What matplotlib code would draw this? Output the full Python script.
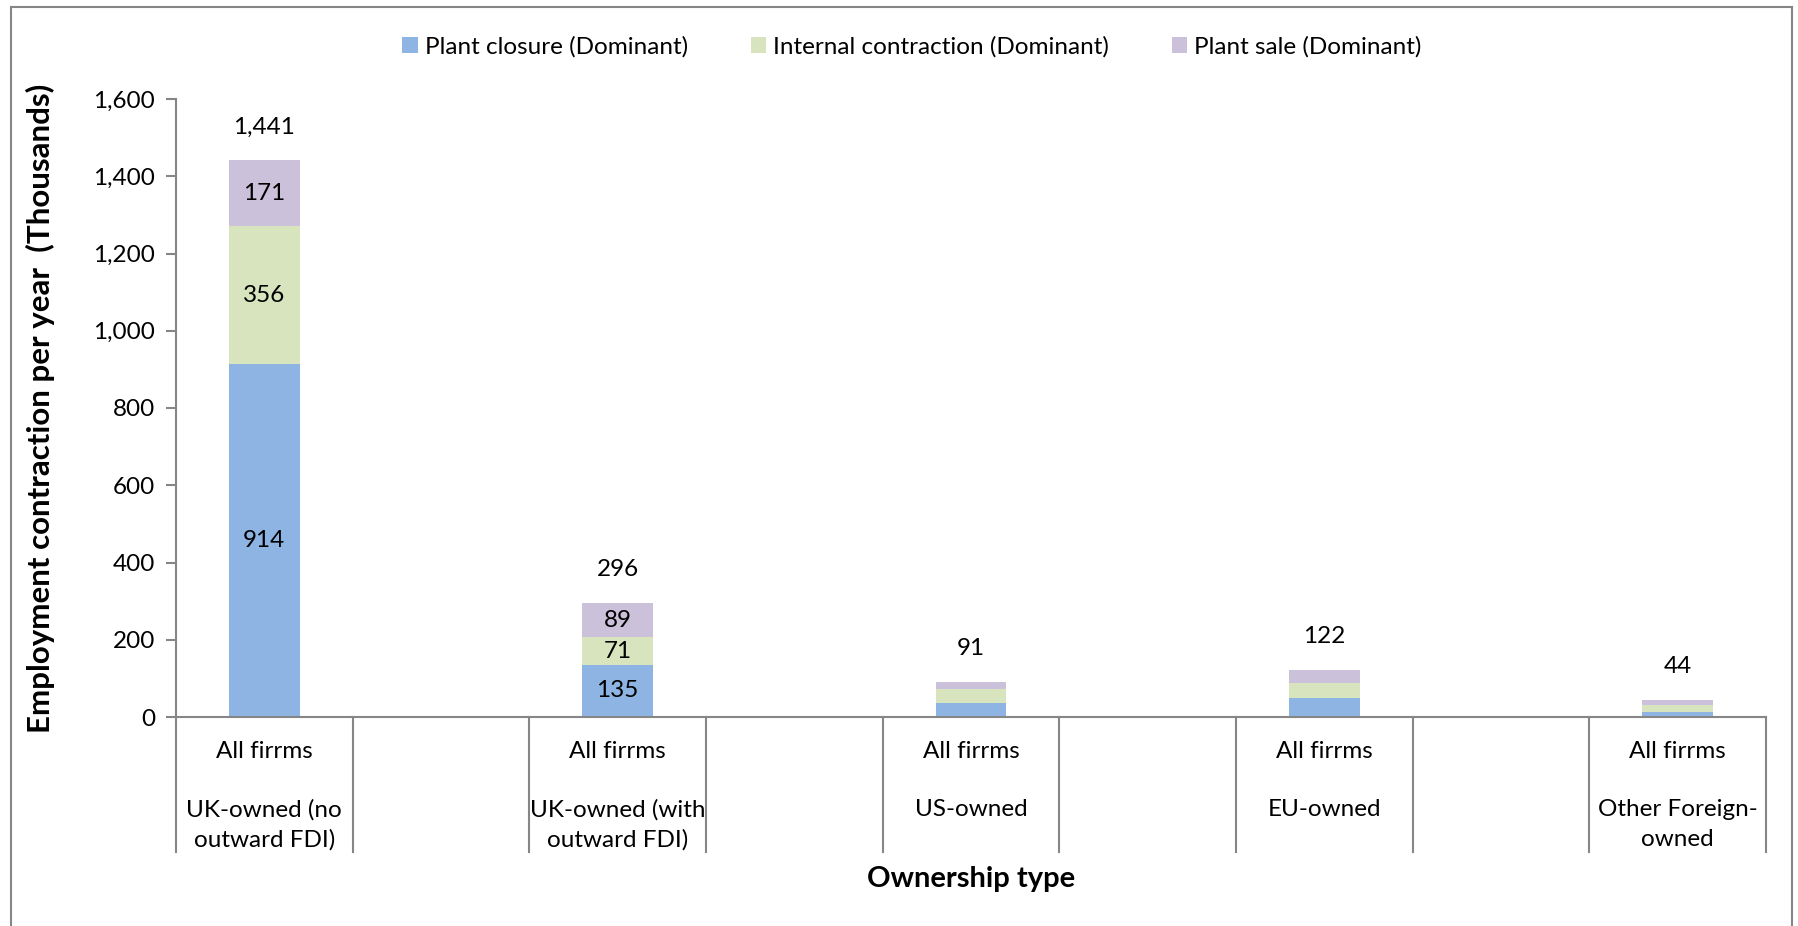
import numpy as np
import matplotlib
matplotlib.use('agg')
import matplotlib.pyplot as plt
import matplotlib.transforms as mtransforms
from matplotlib.patches import Patch
from matplotlib.lines import Line2D
import matplotlib.ticker as ticker

###DATA###
owners = ['UK-owned (no\noutward FDI)', 'UK-owned (with\noutward FDI)', 'US-owned', 'EU-owned', 'Other Foreign-\nowned']
sub_label = 'All firrms'
closure = [914, 135, 37, 49, 14]
internal = [356, 71, 36, 39, 17]
sale = [171, 89, 18, 34, 13]
totals = [1441, 296, 91, 122, 44]
show_inside = [True, True, False, False, False]
legends = ['Plant closure (Dominant)', 'Internal contraction (Dominant)', 'Plant sale (Dominant)']
colors = ['#8EB4E3', '#D7E4BD', '#CCC1DA']
gray = '#868686'

plt.rcParams['font.family'] = ['Lato', 'DejaVu Sans']
FS = 17.5

W, H = 1798, 926
fig = plt.figure(figsize=(W/100, H/100), dpi=100)
ax = fig.add_axes([176/W, 1-717/H, 1590/W, 618/H])

def yfrac(ypix):
    # pixel row below the x axis -> axes fraction
    return (717 - ypix) / 618.0

# bars sit in every other slot (empty slot in between)
xpos = np.arange(len(owners)) * 2
bottom = np.zeros(len(owners))
for vals, c, lab in zip([closure, internal, sale], colors, legends):
    vals = np.array(vals, dtype=float)
    bars = ax.bar(xpos, vals, width=0.4, bottom=bottom, color=c, label=lab)
    for i, b in enumerate(bars):
        if show_inside[i]:
            ax.text(b.get_x() + b.get_width()/2, bottom[i] + vals[i]/2, str(int(vals[i])),
                    ha='center', va='center', fontsize=FS, color='black')
    bottom += vals

for x, t, top in zip(xpos, totals, bottom):
    ax.annotate('{:,}'.format(t), xy=(x, top), xytext=(0, 24), textcoords='offset points',
                ha='center', va='center', fontsize=FS)

###AXES###
ax.set_xlim(-0.5, 2*len(owners) - 1.5)
ax.set_ylim(0, 1600)
ax.yaxis.set_major_locator(ticker.MultipleLocator(200))
ax.yaxis.set_major_formatter(ticker.FuncFormatter(lambda v, p: '{:,.0f}'.format(v)))
ax.set_xticks([])
for s in ['top', 'right']:
    ax.spines[s].set_visible(False)
for s in ['left', 'bottom']:
    ax.spines[s].set_color(gray)
    ax.spines[s].set_linewidth(1.5)
ax.tick_params(axis='y', length=7, width=1.5, color=gray, labelsize=FS, pad=8)

# category dividers and two level labels
trans = mtransforms.blended_transform_factory(ax.transData, ax.transAxes)
for b in np.arange(-0.5, 2*len(owners) - 1, 1.0):
    ax.plot([b, b], [0, yfrac(852)], transform=trans, color=gray, lw=1.5, clip_on=False)
for x, name in zip(xpos, owners):
    ax.text(x, yfrac(752), sub_label, transform=trans, ha='center', va='center', fontsize=FS)
    for k, line in enumerate(name.split('\n')):
        ax.text(x, yfrac(810 + 30*k), line, transform=trans, ha='center', va='center', fontsize=FS)

fig.text(40/W, 1-408/H, 'Employment contraction per year  (Thousands)', rotation=90,
         ha='center', va='center', fontsize=22.5, fontweight='bold')
fig.text(971/W, 1-879/H, 'Ownership type', ha='center', va='center', fontsize=21, fontweight='bold')

handles = [Patch(facecolor=c) for c in colors]
fig.legend(handles, legends, loc='center', bbox_to_anchor=(912/W, 1-47/H), ncol=3, frameon=False,
           fontsize=FS, handlelength=0.62, handleheight=0.62, handletextpad=0.29, columnspacing=2.6)

# chart border
for xs, ys in [([11, 11], [7, H]), ([11, 1792], [7, 7]), ([1792, 1792], [7, H])]:
    fig.add_artist(Line2D([x/W for x in xs], [1-y/H for y in ys], color=gray, lw=1.5))

plt.savefig('out.png', dpi=100)
